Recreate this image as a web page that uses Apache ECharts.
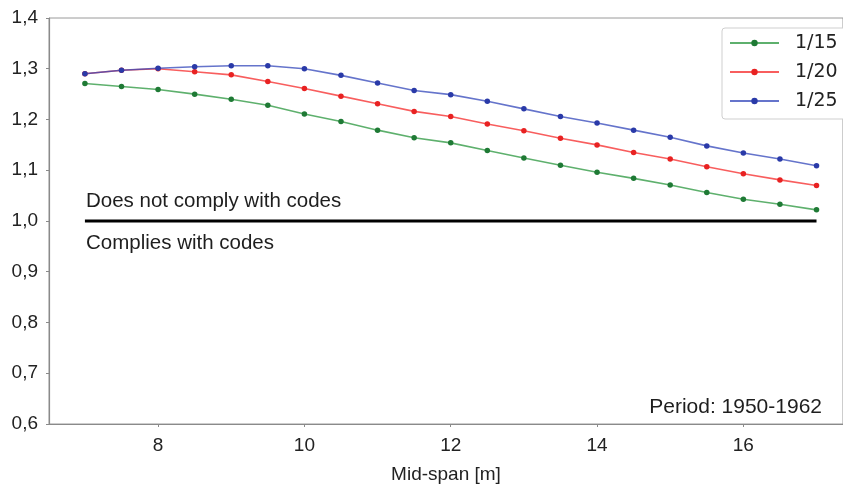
<!DOCTYPE html>
<html>
<head>
<meta charset="utf-8">
<script src="https://cdn.jsdelivr.net/npm/echarts@6/dist/echarts.min.js"></script>
<style>
html,body{margin:0;padding:0;background:#fff;}
#chart{width:843px;height:489px;}
</style>
</head>
<body>
<div id="chart"></div>
<script>
// ---- data ----
var spans = [7, 7.5, 8, 8.5, 9, 9.5, 10, 10.5, 11, 11.5, 12, 12.5, 13, 13.5, 14, 14.5, 15, 15.5, 16, 16.5, 17];
var ratio15 = [1.271, 1.265, 1.259, 1.250, 1.240, 1.228, 1.211, 1.196, 1.179, 1.164, 1.154, 1.139, 1.124, 1.110, 1.096, 1.084, 1.071, 1.056, 1.043, 1.033, 1.022];
var ratio20 = [1.290, 1.297, 1.300, 1.294, 1.288, 1.275, 1.261, 1.246, 1.231, 1.216, 1.206, 1.191, 1.178, 1.163, 1.150, 1.135, 1.122, 1.107, 1.093, 1.081, 1.070];
var ratio25 = [1.290, 1.297, 1.301, 1.304, 1.306, 1.306, 1.300, 1.287, 1.272, 1.257, 1.249, 1.236, 1.221, 1.206, 1.193, 1.179, 1.165, 1.148, 1.134, 1.122, 1.109];
var seriesNames = ['1/15', '1/20', '1/25'];
var xTickValues = [8, 10, 12, 14, 16];
var codeLimit = 1.0;
var limitSpan = [7, 17];
var xAxisTitle = 'Mid-span [m]';
var textAbove = 'Does not comply with codes';
var textBelow = 'Complies with codes';
var periodText = 'Period: 1950-1962';

function pairs(xs, ys) { return xs.map(function (x, i) { return [x, ys[i]]; }); }

var chart = echarts.init(document.getElementById('chart'), null, {renderer: 'canvas'});
var font = '"Liberation Sans", Arial, sans-serif';
var colors = {
  line: ['rgba(40,150,60,0.75)', 'rgba(245,40,40,0.75)', 'rgba(50,70,185,0.75)'],
  dot: ['#1f7a35', '#e82222', '#2a3aa8']
};
function lineSeries(i, data) {
  return {
    name: seriesNames[i], type: 'line', data: pairs(spans, data),
    symbol: 'circle', symbolSize: 5.5, showSymbol: true,
    lineStyle: {color: colors.line[i], width: 1.6},
    itemStyle: {color: colors.dot[i], borderWidth: 0},
    emphasis: {disabled: true}, animation: false, z: 3 + i
  };
}

chart.setOption({
  animation: false,
  backgroundColor: '#fff',
  grid: {left: 49, top: 18, right: -1, bottom: 62, show: true, borderColor: '#9a9a9a', borderWidth: 1, backgroundColor: 'transparent'},
  xAxis: {
    type: 'value', min: 6.509, max: 17.362,
    axisLine: {show: true, lineStyle: {color: '#8a8a8a', width: 1.2}},
    axisTick: {show: true, length: 3, lineStyle: {color: '#8a8a8a'}, customValues: xTickValues},
    axisLabel: {customValues: xTickValues, color: '#222', fontFamily: font, fontSize: 19, margin: 12},
    splitLine: {show: false},
    name: xAxisTitle, nameLocation: 'middle', nameGap: 41,
    nameTextStyle: {color: '#222', fontFamily: font, fontSize: 19}
  },
  yAxis: {
    type: 'value', min: 0.6, max: 1.4, interval: 0.1,
    axisLine: {show: true, lineStyle: {color: '#8a8a8a', width: 1.2}},
    axisTick: {show: true, length: 3, lineStyle: {color: '#8a8a8a'}},
    axisLabel: {
      color: '#222', fontFamily: font, fontSize: 19, margin: 11,
      padding: [0, 0, 8, 0],
      formatter: function (v) { return v.toFixed(1).replace('.', ','); }
    },
    splitLine: {show: false}
  },
  legend: {
    data: seriesNames, orient: 'vertical', left: 722, top: 28,
    itemWidth: 49, itemHeight: 8, itemGap: 9,
    padding: [5, 12, 8, 7],
    backgroundColor: '#fff', borderColor: '#cfcfcf', borderWidth: 1, borderRadius: 3,
    textStyle: {fontFamily: '"DejaVu Sans", sans-serif', fontSize: 19, color: '#222', lineHeight: 20, padding: [0, 0, 0, 11]},
    selectedMode: false
  },
  series: [
    {
      name: 'limit', type: 'line', data: pairs(limitSpan, [codeLimit, codeLimit]),
      symbol: 'none', lineStyle: {color: '#000', width: 3}, z: 2,
      emphasis: {disabled: true}, silent: true
    },
    lineSeries(0, ratio15),
    lineSeries(1, ratio20),
    lineSeries(2, ratio25)
  ],
  graphic: [
    {type: 'text', left: 86, top: 191, style: {text: textAbove, font: '20.5px ' + font, fill: '#1e1e1e'}},
    {type: 'text', left: 86, top: 233, style: {text: textBelow, font: '20.5px ' + font, fill: '#1e1e1e'}},
    {type: 'text', right: 21, top: 397, style: {text: periodText, font: '21px ' + font, fill: '#1e1e1e'}}
  ]
});
</script>
</body>
</html>
